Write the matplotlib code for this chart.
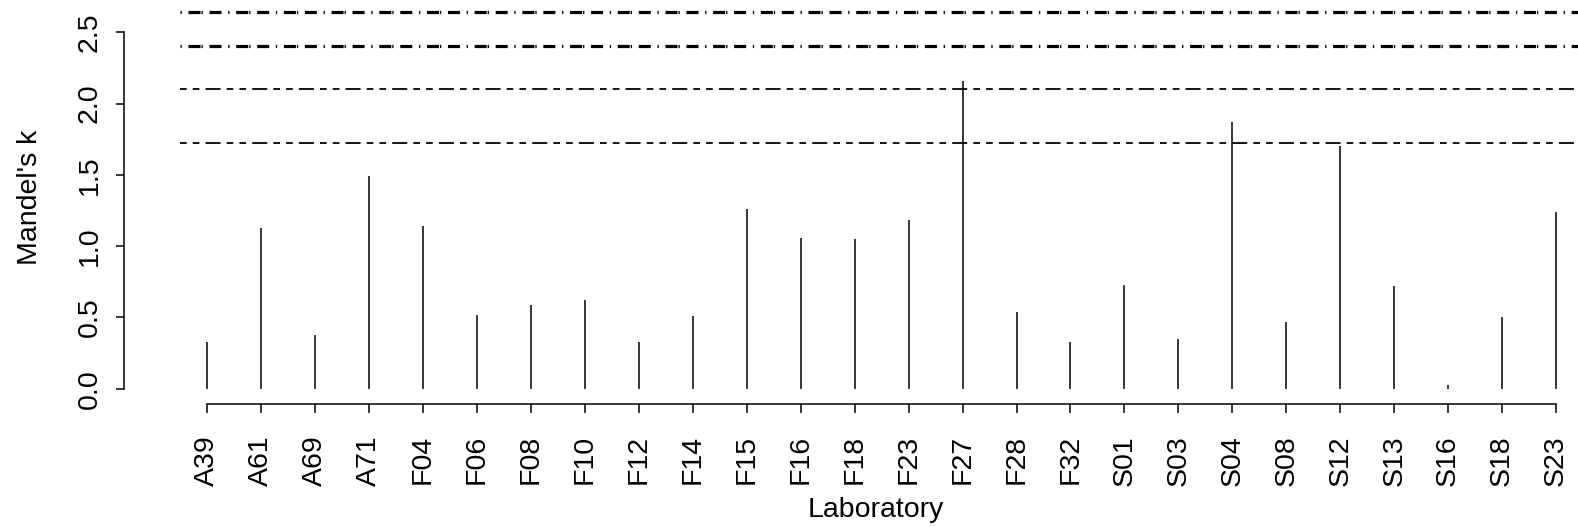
import matplotlib
matplotlib.use("Agg")
import matplotlib.pyplot as plt

# Mandel's k statistic per laboratory
labs = ["A39", "A61", "A69", "A71", "F04", "F06", "F08", "F10", "F12", "F14",
        "F15", "F16", "F18", "F23", "F27", "F28", "F32", "S01", "S03", "S04",
        "S08", "S12", "S13", "S16", "S18", "S23"]
k = [0.33, 1.13, 0.38, 1.49, 1.14, 0.52, 0.59, 0.62, 0.33, 0.51,
     1.26, 1.06, 1.05, 1.18, 2.16, 0.54, 0.33, 0.73, 0.35, 1.87,
     0.47, 1.70, 0.72, 0.025, 0.50, 1.24]

# critical values (dashed = 5 %, dot-dash = 1 %)
k_crit_5 = [1.72, 2.10]
k_crit_1 = [2.405, 2.64]

plt.rcParams['font.family'] = ['Liberation Sans', 'DejaVu Sans']
plt.rcParams['font.size'] = 20.5
plt.rcParams['lines.scale_dashes'] = False

W, H = 1578, 527
fig = plt.figure(figsize=(W / 100, H / 100), dpi=100)

# plot region in pixels
x0_px, y0_px = 180.3, 388.7
ax = fig.add_axes([x0_px / W, (H - y0_px) / H, 1 - x0_px / W, y0_px / H])

step = 53.95
x = list(range(1, len(labs) + 1))
ax.set_xlim(0.5, 1 + (W - 207.3) / step)
ax.set_ylim(0, y0_px / 142.56)

ax.vlines(x, 0, k, colors='black', linewidth=1.1, clip_on=False)

for y in k_crit_5:
    ax.axhline(y, color='black', linewidth=1.3,
               dashes=(4.8, 4.4, 4.8, 4.4, 10.8, 4.4))
for y in k_crit_1:
    ax.axhline(y, color='black', linewidth=2.3,
               dashes=(0.94, 4.82, 8.64, 0.72, 0.94, 4.82, 8.64, 4.82))

# R-style detached axes
for s in ['top', 'right']:
    ax.spines[s].set_visible(False)
ax.spines['left'].set_position(('outward', 40.3))
ax.spines['bottom'].set_position(('outward', 10.8))
ax.spines['left'].set_bounds(0, 2.5)
ax.spines['bottom'].set_bounds(1, len(labs))
ax.spines['left'].set_linewidth(1.1)
ax.spines['bottom'].set_linewidth(1.1)

ax.set_yticks([0, 0.5, 1.0, 1.5, 2.0, 2.5])
ax.set_yticklabels(["0.0", "0.5", "1.0", "1.5", "2.0", "2.5"],
                   rotation=90, va='center')
ax.set_xticks(x)
ax.set_xticklabels(labs, rotation=90)
ax.tick_params(axis='y', length=5.5, width=1.1, pad=10)
ax.tick_params(axis='x', length=6.2, width=1.1, pad=16.5)

fig.text(30 / W, 1 - 197 / H, "Mandel's k", rotation=90,
         ha='center', va='center')
fig.text(876 / W, 1 - 510 / H, "Laboratory", ha='center', va='center')

fig.savefig("out.png", dpi=100)
